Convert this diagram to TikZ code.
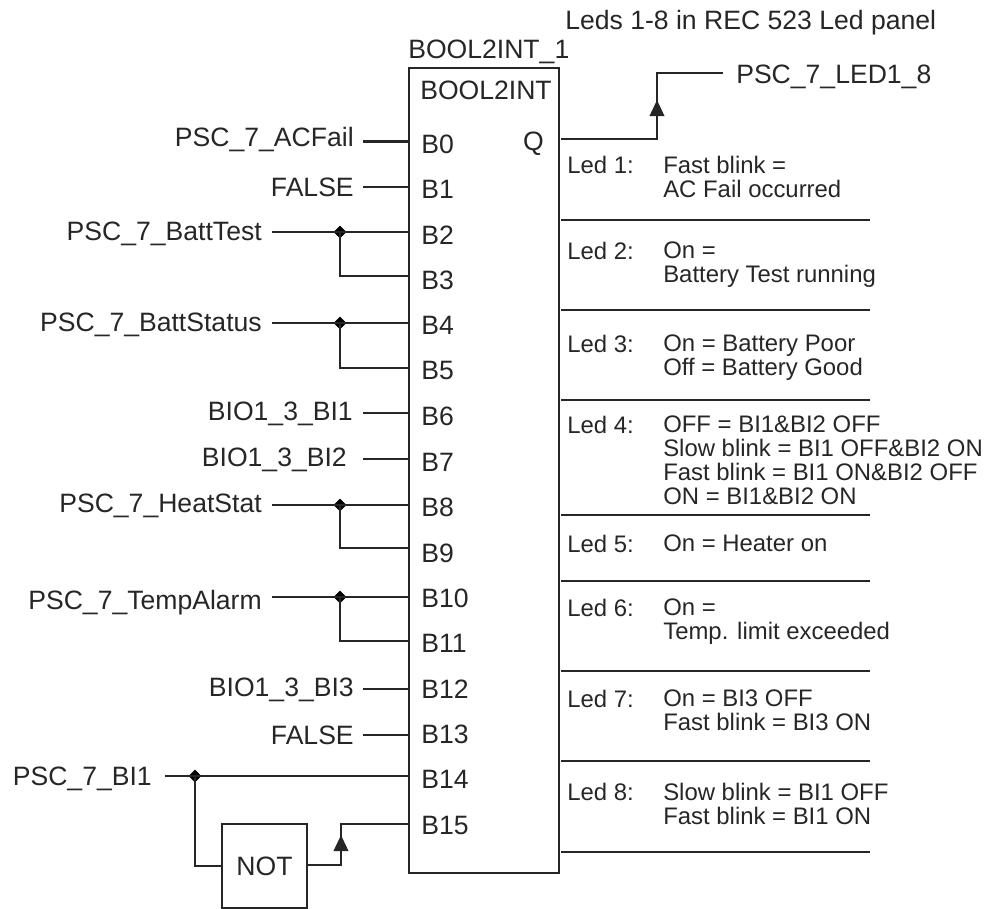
\documentclass[tikz,border=0pt]{standalone}
\usepackage{fontspec}
\setmainfont{Liberation Sans}
\usepackage{tikz}
\usetikzlibrary{arrows.meta, positioning, shapes.geometric}

\begin{document}
\begin{tikzpicture}[
    x=0.025cm, y=-0.025cm,
    wire/.style={line width=1.7pt, black!85},
    thinwire/.style={line width=1.3pt, black!85},
    rise/.style={wire, -{Triangle[length=0.4cm, width=0.36cm]}},
    dot/.style={draw=none, fill=black, diamond, inner sep=0pt, minimum size=0.32cm},
    block/.style={draw=black!85, line width=1.7pt, anchor=north west, inner sep=0pt},
    siglabel/.style={font=\fontsize{18.9}{22}\selectfont, inner sep=0pt, text=black!85},
    pinlabel/.style={siglabel, anchor=west},
    ledtext/.style={font=\fontsize{17}{17}\selectfont, inner sep=0pt, anchor=north west, align=left, text=black!85},
]
  \useasboundingbox (0,0) rectangle (996,909);

  \node[block, minimum width=3.75cm, minimum height=20.12cm] (bool) at (408,67) {};
  \node[siglabel, anchor=west] (boolname) at (408,52) {BOOL2INT\_1};
  \node[siglabel, anchor=west] (booltype) at (420,90) {BOOL2INT};
  \node[siglabel, anchor=west] (title) at (565,23) {Leds 1-8 in REC 523 Led panel};

  % input pins
  \foreach \i/\y/\t in {0/141.5/144, 1/187/189, 2/232/235, 3/276/280, 4/323/325, 5/368/370, 6/413/416, 7/459/462,
                        8/505/507, 9/548/553, 10/597/598, 11/641/643, 12/689/689, 13/735/734, 14/776/779, 15/824/825} {
    \coordinate (p\i) at (408,\y);
    \node[pinlabel] (b\i) at (421,\t) {B\i};
  }
  \node[siglabel, anchor=east] (q) at (544,144) {Q};
  \coordinate (qout) at (561,139);

  % single inputs
  \node[siglabel, anchor=east] (acfail) at (354,140) {PSC\_7\_ACFail};
  \node[siglabel, anchor=east] (false1) at (354,187) {FALSE};
  \node[siglabel, anchor=east] (bi1) at (353,414) {BIO1\_3\_BI1};
  \node[siglabel, anchor=east] (bi2) at (347,460) {BIO1\_3\_BI2};
  \node[siglabel, anchor=east] (bi3) at (354,690) {BIO1\_3\_BI3};
  \node[siglabel, anchor=east] (false2) at (354,735) {FALSE};
  \foreach \i in {0, 1, 6, 7, 12, 13} {
    \draw[wire] (p\i) -- ++(-45,0);
  }

  % doubled inputs
  \node[siglabel, anchor=east] (batttest) at (262,234) {PSC\_7\_BattTest};
  \node[siglabel, anchor=east] (battstatus) at (262,325) {PSC\_7\_BattStatus};
  \node[siglabel, anchor=east] (heatstat) at (262,506) {PSC\_7\_HeatStat};
  \node[siglabel, anchor=east] (tempalarm) at (262,603) {PSC\_7\_TempAlarm};
  \foreach \i/\k in {2/3, 4/5, 8/9, 10/11} {
    \node[dot] (j\i) at (340,0 |- p\i) {};
    \draw[wire] (p\i) -- ++(-136,0);
    \draw[wire] (j\i.center) |- (p\k);
  }

  % inverted input
  \node[siglabel, anchor=east] (pscbi) at (152,779) {PSC\_7\_BI1};
  \node[dot] (j14) at (195,776) {};
  \node[draw=black!85, line width=1.7pt, minimum width=2.12cm, minimum height=2.1cm, inner sep=0pt,
        font=\fontsize{18.9}{22}\selectfont, text=black!85] (inv) at (264.5,866) {NOT};
  \coordinate (invrise) at (341,865);
  \coordinate (invtip) at (341,835);
  \draw[wire] (p14) -- ++(-243,0);
  \draw[wire] (j14.center) |- (inv.west);
  \draw[thinwire] (inv.east |- invrise) -| (invtip) |- (p15);
  \draw[rise] (invrise) -- (invtip);

  % output
  \node[siglabel, anchor=west] (ledout) at (736,77) {PSC\_7\_LED1\_8};
  \coordinate (qrise) at (657,139);
  \coordinate (qtip) at (657,100);
  \coordinate (qend) at (723,73);
  \draw[wire] (qout) -| (qtip) |- (qend);
  \draw[rise] (qrise) -- (qtip);

  % led table
  \foreach \y in {220, 310, 400, 515, 581, 671, 761, 852} {
    \draw[wire] (561,\y) -- (870,\y);
  }
  \node[ledtext] (led1) at (567,155.5) {Led 1:};
  \node[ledtext] (txt1) at (663,155.5) {Fast blink =\\AC Fail occurred};
  \node[ledtext] (led2) at (567,241.5) {Led 2:};
  \node[ledtext] (txt2) at (663,241.5) {On =\\Battery Test running};
  \node[ledtext] (led3) at (567,334.5) {Led 3:};
  \node[ledtext] (txt3) at (663,334.5) {On = Battery Poor\\Off = Battery Good};
  \node[ledtext] (led4) at (567,415.5) {Led 4:};
  \node[ledtext] (txt4) at (663,415.5) {OFF = BI1\&BI2 OFF\\Slow blink = BI1 OFF\&BI2 ON\\Fast blink = BI1 ON\&BI2 OFF\\ON = BI1\&BI2 ON};
  \node[ledtext] (led5) at (567,534.5) {Led 5:};
  \node[ledtext] (txt5) at (663,534.5) {On = Heater on};
  \node[ledtext] (led6) at (567,598.5) {Led 6:};
  \node[ledtext] (txt6) at (663,598.5) {On =\\Temp. limit exceeded};
  \node[ledtext] (led7) at (567,689.5) {Led 7:};
  \node[ledtext] (txt7) at (663,689.5) {On = BI3 OFF\\Fast blink = BI3 ON};
  \node[ledtext] (led8) at (567,782.5) {Led 8:};
  \node[ledtext] (txt8) at (663,782.5) {Slow blink = BI1 OFF\\Fast blink = BI1 ON};
\end{tikzpicture}
\end{document}
